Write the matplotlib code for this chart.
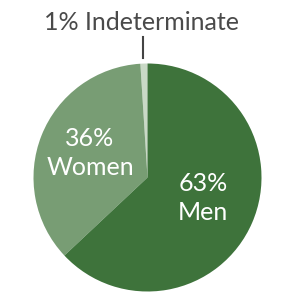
import matplotlib as mpl
mpl.use('Agg')
import matplotlib.pyplot as plt

# share of each group (percent)
labels = ['Indeterminate', 'Women', 'Men']
shares = [1, 36, 63]
colors = ['#c9d9c6', '#789d74', '#3e733b']

plt.rcParams['font.family'] = ['Lato', 'DejaVu Sans']

W, H = 287, 293
fig = plt.figure(figsize=(W / 100, H / 100), dpi=100)
ax = fig.add_axes([0, 0, 1, 1])

cx, cy, r = 147.5, H - 177.5, 114
ax.pie(shares, colors=colors, startangle=90, counterclock=True,
       center=(cx, cy), radius=r, frame=True,
       wedgeprops=dict(linewidth=0))
ax.set_xlim(0, W)
ax.set_ylim(0, H)
ax.set_aspect('equal')
ax.axis('off')

# labels inside slices
ax.text(90, H - 153, '%d%%\n%s' % (shares[1], labels[1]), ha='center', va='center',
        color='white', fontsize=18, linespacing=1.3)
ax.text(203, H - 198, '%d%%\n%s' % (shares[2], labels[2]), ha='center', va='center',
        color='white', fontsize=18, linespacing=1.3)

# outside label for the tiny slice
ax.text(142, H - 22, '%d%% %s' % (shares[0], labels[0]), ha='center', va='center',
        color='#4a4a4a', fontsize=18)
ax.plot([143, 143], [H - 37, H - 58], color='#444444', lw=1.5)

plt.savefig('out.png', dpi=100)
